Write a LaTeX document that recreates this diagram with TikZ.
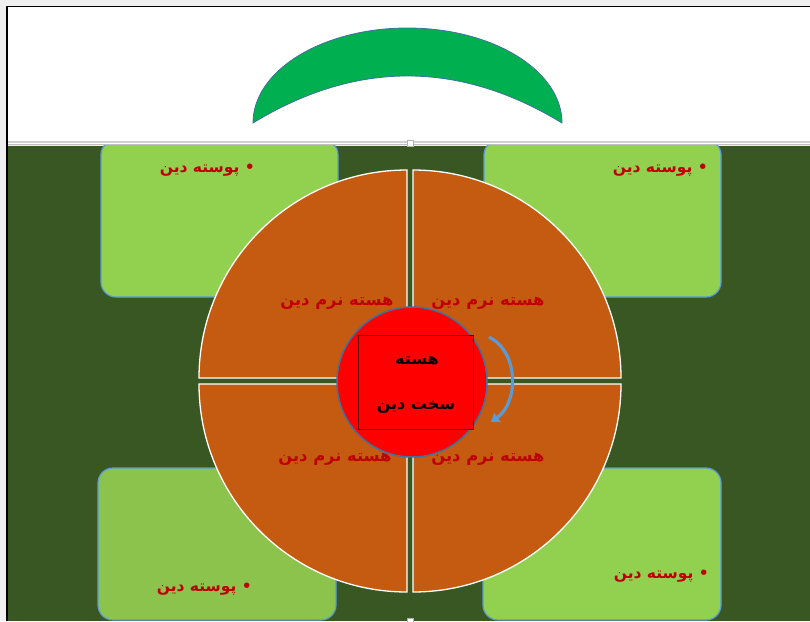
\documentclass[tikz,border=0pt]{standalone}
\usepackage{fontspec}
\newfontfamily\arabicfont[Script=Arabic]{DejaVu Sans}
\TeXXeTstate=1
\usetikzlibrary{arrows.meta}
\definecolor{dkgreen}{HTML}{385723}
\definecolor{orng}{HTML}{C55A11}
\definecolor{redtxt}{HTML}{C00000}
\definecolor{lgreen}{HTML}{92D050}
\definecolor{lgreenb}{HTML}{8BC34C}
\definecolor{boxline}{HTML}{5B9BD5}
\definecolor{crescent}{HTML}{00B050}
\definecolor{edgeblue}{HTML}{41719C}
\definecolor{arrowblue}{HTML}{5B9BD5}
\definecolor{pagegray}{HTML}{F0F0F0}
\definecolor{sepgray}{HTML}{D0D0D0}
\tikzset{
  greenbox/.style={draw=boxline, line width=1.2pt, fill=lgreen, rounded corners=15pt,
    minimum width=237pt, minimum height=157pt, inner sep=0pt},
  quad/.style={fill=orng, draw=white, line width=1.3pt},
  shelllabel/.style={text=redtxt, font=\arabicfont\bfseries\fontsize{15.5}{18}\selectfont, inner sep=0pt},
  softlabel/.style={text=redtxt, font=\arabicfont\bfseries\fontsize{16.3}{19}\selectfont, inner sep=0pt},
  corelabel/.style={text=black, font=\arabicfont\bfseries\fontsize{16}{19}\selectfont, inner sep=0pt},
  handle/.style={fill=white, draw=gray!60, line width=0.5pt, minimum size=6pt, inner sep=0pt}
}
\begin{document}
\begin{tikzpicture}[x=1pt,y=-1pt]
\useasboundingbox (0,0) rectangle (810,621);
% page background
\fill[pagegray] (0,0) rectangle (810,621);
\fill[white] (7,7) rectangle (810,145);
\fill[dkgreen] (7,145.5) rectangle (810,621);
\draw[sepgray, line width=1.5pt] (7,142) -- (810,142);
\draw[sepgray!80!gray, line width=1.2pt] (7,144.8) -- (810,144.8);
\draw[black, line width=1.4pt] (7,621) -- (7,6.5) -- (810,6.5);
% crescent
\path[fill=crescent, draw=edgeblue, line width=0.8pt]
  (253,123) arc[start angle=180, end angle=360, x radius=154.5, y radius=95]
  .. controls (459,60.3) and (356,60.3) .. (253,123) -- cycle;
% boxes
\begin{scope}
\clip (7,145.6) rectangle (810,621);
\node[greenbox] (boxTL) at (219.5,218.5) {};
\node[greenbox] (boxTR) at (602.5,218.5) {};
\node[greenbox, fill=lgreenb, minimum width=238pt, minimum height=152pt] (boxBL) at (217,544) {};
\node[greenbox, minimum width=238pt, minimum height=152pt] (boxBR) at (602,544) {};
\end{scope}
\node[shelllabel, anchor=east] (tTL) at (255,170) {\beginR •\ پوسته دین\endR};
\node[shelllabel, anchor=east] (tTR) at (708,170) {\beginR •\ پوسته دین\endR};
\node[shelllabel, anchor=east] (tBL) at (252,589) {\beginR •\ پوسته دین\endR};
\node[shelllabel, anchor=east] (tBR) at (709,576) {\beginR •\ پوسته دین\endR};
% quadrants
\path[quad] (407,378) -- +(-208,0) arc[start angle=180, end angle=270, radius=208] -- cycle;
\path[quad] (413,378) -- +(0,-208) arc[start angle=270, end angle=360, radius=208] -- cycle;
\path[quad] (413,384) -- +(208,0) arc[start angle=0, end angle=90, radius=208] -- cycle;
\path[quad] (407,384) -- +(0,208) arc[start angle=90, end angle=180, radius=208] -- cycle;
\node[softlabel] (qTL) at (337,303) {\beginR هسته نرم دین\endR};
\node[softlabel] (qTR) at (488,303) {\beginR هسته نرم دین\endR};
\node[softlabel] (qBL) at (335,459) {\beginR هسته نرم دین\endR};
\node[softlabel] (qBR) at (488,459) {\beginR هسته نرم دین\endR};
% core
\node[circle, fill=red, draw=edgeblue, line width=1.5pt, minimum size=150pt, inner sep=0pt] (core) at (412,382) {};
\node[rectangle, fill=red, draw=black!60!red, line width=0.8pt, minimum width=115pt, minimum height=94pt, inner sep=0pt] (corebox) at (415.5,382) {};
\node[corelabel] (c1) at (417,361) {\beginR هسته\endR};
\node[corelabel] (c2) at (416,407) {\beginR سخت دین\endR};
% curved arrow
\coordinate (arrS) at (489,337);
\coordinate (arrE) at (491,422);
\draw[arrowblue, line width=3.2pt, -{Triangle[length=8pt,width=11pt]}]
  (arrS) .. controls (519,352) and (519,402) .. (arrE);
% handles
\node[handle] (h1) at (410,143.5) {};
\node[handle] (h2) at (410,621) {};
\end{tikzpicture}
\end{document}
